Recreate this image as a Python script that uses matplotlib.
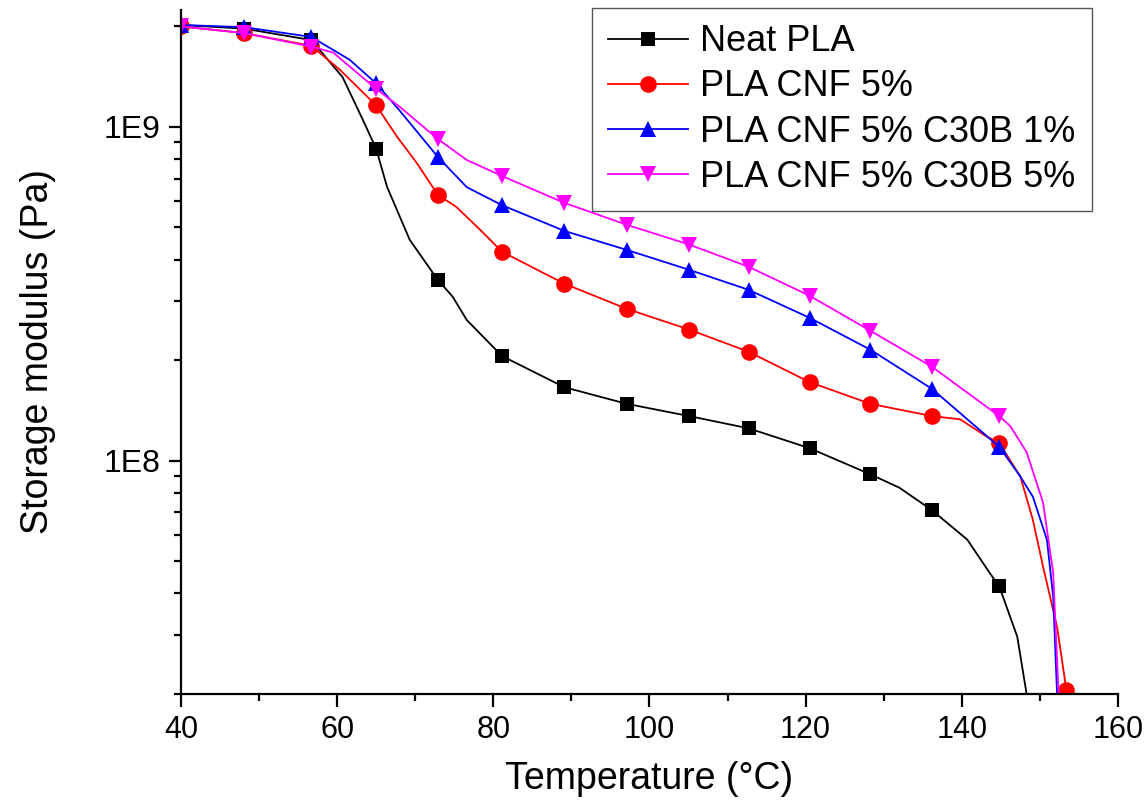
# storage modulus vs temperature (DMA), log scale
import numpy as np
import matplotlib.pyplot as plt
from matplotlib.ticker import MultipleLocator, LogLocator, FuncFormatter, NullFormatter

plt.rcParams['font.family'] = ['Liberation Sans', 'DejaVu Sans']

# temperatures where the markers sit
t_mark = [40, 48.1, 56.7, 65.0, 72.9, 81.1, 89.1, 97.1, 105.1, 112.7, 120.5, 128.3, 136.2, 144.8, 153.4]

# Neat PLA
t_neat = [40, 48.1, 56.7, 60.7, 63.3, 65.0, 66.4, 69.3, 72.9, 74.8, 76.6, 81.1, 89.1, 97.1,
          105.1, 112.7, 120.5, 128.3, 132.0, 136.2, 140.7, 143.6, 144.8, 147.1, 148.3]
e_neat = [2.02e9, 1.97e9, 1.82e9, 1.41e9, 1.05e9, 8.6e8, 6.61e8, 4.59e8, 3.48e8, 3.1e8, 2.64e8,
          2.06e8, 1.66e8, 1.48e8, 1.36e8, 1.25e8, 1.09e8, 9.1e7, 8.3e7, 7.1e7, 5.8e7, 4.6e7,
          4.2e7, 2.97e7, 2.0e7]

# PLA CNF 5%
t_cnf = [40, 48.1, 56.7, 60.4, 65.0, 67.7, 70.2, 72.9, 75.3, 78.7, 81.1, 89.1, 97.1, 105.1,
         112.7, 120.5, 128.3, 136.2, 139.8, 143.2, 144.8, 147.5, 149.1, 150.4, 152.2, 153.4]
e_cnf = [2.0e9, 1.91e9, 1.75e9, 1.48e9, 1.16e9, 9.33e8, 7.8e8, 6.26e8, 5.75e8, 4.82e8, 4.23e8,
         3.39e8, 2.85e8, 2.47e8, 2.12e8, 1.72e8, 1.48e8, 1.36e8, 1.33e8, 1.18e8, 1.13e8,
         8.96e7, 6.65e7, 4.82e7, 3.18e7, 2.05e7]

# PLA CNF 5% C30B 1%
t_b1 = [40, 48.1, 56.7, 61.6, 65.0, 68.0, 72.9, 76.6, 81.1, 89.1, 97.1, 105.1, 112.7, 120.5,
        128.3, 136.2, 144.8, 147.5, 149.1, 150.9, 151.7, 152.2]
e_b1 = [2.02e9, 1.99e9, 1.86e9, 1.59e9, 1.35e9, 1.12e9, 8.13e8, 6.6e8, 5.83e8, 4.88e8, 4.28e8,
        3.73e8, 3.25e8, 2.68e8, 2.15e8, 1.64e8, 1.10e8, 8.96e7, 7.8e7, 5.8e7, 3.92e7, 2.0e7]

# PLA CNF 5% C30B 5%
t_b5 = [40, 48.1, 56.7, 59.5, 65.0, 68.0, 72.9, 76.6, 81.1, 89.1, 97.1, 105.1, 112.7, 120.5,
        128.3, 136.2, 144.8, 146.2, 148.3, 150.4, 151.7, 152.4]
e_b5 = [2.0e9, 1.91e9, 1.74e9, 1.67e9, 1.30e9, 1.15e9, 9.2e8, 7.96e8, 7.13e8, 5.92e8, 5.09e8,
        4.44e8, 3.81e8, 3.12e8, 2.45e8, 1.91e8, 1.36e8, 1.27e8, 1.06e8, 7.5e7, 4.62e7, 2.0e7]

labels = ['Neat PLA', 'PLA CNF 5%', 'PLA CNF 5% C30B 1%', 'PLA CNF 5% C30B 5%']
colors = ['black', 'red', 'blue', 'magenta']
markers = ['s', 'o', '^', 'v']
msizes = [10.5, 12, 12, 12]

fig = plt.figure(figsize=(11.45, 8.06), dpi=100)
ax = fig.add_axes([0.158, 0.139, 0.8184, 0.8486])

series = [(t_neat, e_neat), (t_cnf, e_cnf), (t_b1, e_b1), (t_b5, e_b5)]
for (t, e), lab, c, m, ms in zip(series, labels, colors, markers, msizes):
    idx = [k for k, tt in enumerate(t) if tt in t_mark]
    ax.plot(t, e, color=c, lw=1.3, marker=m, markersize=ms, markevery=idx,
            markeredgewidth=0, label=lab)

ax.set_yscale('log')
ax.set_xlim(40, 160)
ax.set_ylim(2.0e7, 2.24e9)

ax.xaxis.set_major_locator(MultipleLocator(20))
ax.xaxis.set_minor_locator(MultipleLocator(10))
ax.yaxis.set_major_locator(LogLocator(base=10))
ax.yaxis.set_minor_locator(LogLocator(base=10, subs=np.arange(2, 10)))
ax.yaxis.set_major_formatter(FuncFormatter(lambda v, p: '1E%d' % round(np.log10(v))))
ax.yaxis.set_minor_formatter(NullFormatter())

for s in ['top', 'right']:
    ax.spines[s].set_visible(False)
for s in ['left', 'bottom']:
    ax.spines[s].set_linewidth(1.6)

ax.tick_params(which='major', direction='out', length=9, width=1.6)
ax.tick_params(which='minor', direction='out', length=5, width=1.6)
ax.tick_params(axis='x', labelsize=22, pad=6)
ax.tick_params(axis='y', labelsize=23, pad=6)

ax.set_xlabel('Temperature (°C)', fontsize=27, labelpad=12)
ax.set_ylabel('Storage modulus (Pa)', fontsize=27, labelpad=34)

leg = ax.legend(loc='upper right', bbox_to_anchor=(0.9537, 0.990), bbox_transform=fig.transFigure,
                borderaxespad=0, fontsize=26, handlelength=2.2, labelspacing=0.28,
                fancybox=False, edgecolor='#555555', framealpha=1, borderpad=0.45,
                handletextpad=0.35)
leg.get_frame().set_linewidth(1.0)

fig.savefig('out.png', dpi=100)
